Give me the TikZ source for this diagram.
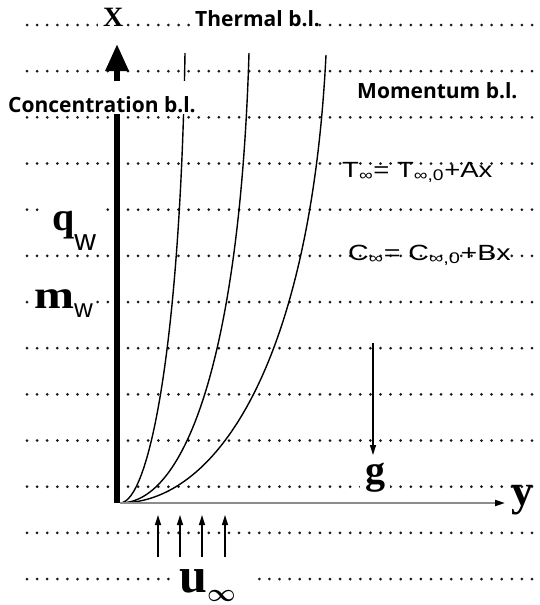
\documentclass[tikz,border=0pt]{standalone}
\usepackage{fontspec}
\usepackage{amsmath}
\usetikzlibrary{arrows.meta}
\newfontfamily\flab{Open Sans}
\newfontfamily\fsans{Liberation Sans}
\newfontfamily\fser{Liberation Serif}
\newcommand\fsz[1]{\fontsize{#1}{#1}\selectfont}
\begin{document}
\begin{tikzpicture}[x=1pt,y=-1pt,
  dotline/.style={line width=3pt, line cap=round, dash pattern=on 0pt off 10.1pt, black!90},
  blcurve/.style={line width=1.4pt},
  flow/.style={line width=1.5pt, -{Triangle[length=10pt,width=6pt]}},
  lab/.style={inner sep=0pt, anchor=base west},
  bl/.style={lab, font=\flab\bfseries\fsz{21}},
  formula/.style={lab, font=\fsans\fsz{22}},
  sym/.style={lab, font=\fser\bfseries}]
\useasboundingbox (0,0) rectangle (539,605);
% dotted guide lines
\foreach \k in {0,...,12}
  \draw[dotline] (27,{25+46.17*\k}) -- (538,{25+46.17*\k});
% named points
\coordinate (O) at (120,503);
\coordinate (wb) at (117,503);
\coordinate (wt) at (117,44);
\coordinate (ye) at (505,503);
\coordinate (gs) at (373,343);
\coordinate (ge) at (373,455);
\coordinate (c1) at (185,53);
\coordinate (c2) at (249,53);
\coordinate (c3) at (326,55);
% boundary-layer curves
\draw[blcurve] (O) .. controls (148,503) and (180,353) .. (c1);
\draw[blcurve] (O) .. controls (186,503) and (240,353) .. (c2);
\draw[blcurve] (O) .. controls (220,503) and (311,355) .. (c3);
% wall and axes
\draw[line width=6pt, -{Triangle[length=27pt,width=22pt]}] (wb) -- (wt);
\draw[line width=1.8pt, black!45, -{Triangle[length=10pt,width=6pt,black]}] (O) -- (ye);
\draw[flow, line width=1.3pt] (gs) -- (ge);
\foreach \x [count=\i] in {158,180,202,225}{
  \coordinate (ub\i) at (\x,557);
  \coordinate (ut\i) at (\x,515);
  \draw[flow] (ub\i) -- (ut\i);
}
% white patches behind labels
\fill[white] (98,20) rectangle (127,30);
\fill[white] (192,20) rectangle (318,30);
\fill[white] (5,81) rectangle (195,114);
\fill[white] (44,205) rectangle (104,222);
\fill[white] (32,298) rectangle (95,306);
\fill[white] (360,481) rectangle (390,492);
\fill[white] (175,574) rectangle (252,585);
% labels
\node[sym, font=\fser\bfseries\fsz{28}] (xl) at (103,27) {X};
\node[bl] (thermal) at (195,27) {Thermal b.l.};
\node[bl] (conc) at (8,112) {Concentration b.l.};
\node[bl] (mom) at (357,98) {Momentum b.l.};
\node[formula] (Tf) at (342,177) {\scalebox{1.25}[1]{T\textsubscript{∞}= T\textsubscript{∞,0}+Ax}};
\node[formula] (Cf) at (348,260) {\scalebox{1.3}[1]{C\textsubscript{∞}= C\textsubscript{∞,0}+Bx}};
\node[sym] (qw) at (52,230) {\fsz{40}q\raisebox{-20pt}{\fsans\mdseries\fsz{30}w}};
\node[sym] (mw) at (34,308) {\fsz{40}\scalebox{1.2}[1]{m}\raisebox{-9pt}{\fsans\mdseries\fsz{26}w}};
\node[sym] (gl) at (365,483) {\fsz{40}g};
\node[sym] (yl) at (511,505) {\fsz{44}y};
\node[sym] (ul) at (179,592) {\fsz{50}u\raisebox{-9pt}{\fsz{40}$\boldsymbol{\infty}$}};
\end{tikzpicture}
\end{document}
